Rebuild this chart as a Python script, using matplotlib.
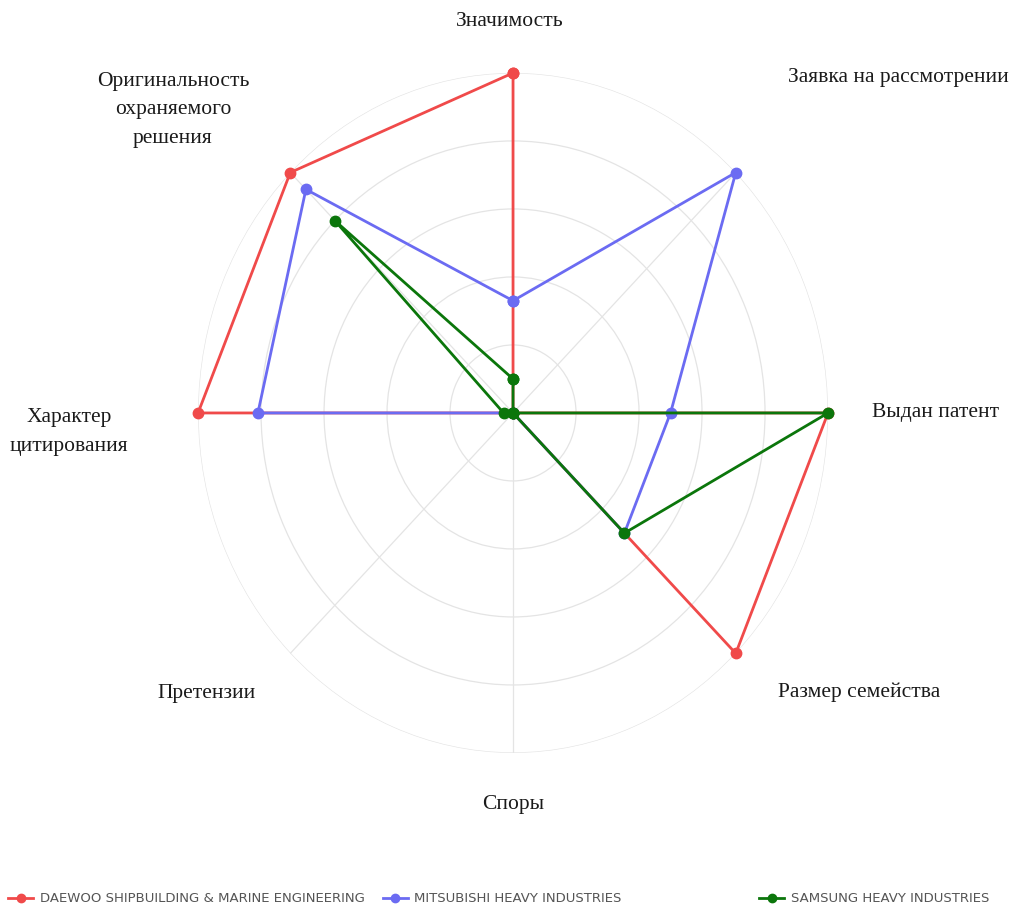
import numpy as np
import matplotlib
matplotlib.use('Agg')
import matplotlib.pyplot as plt

# axes of the radar, clockwise from the top
categories = ['Значимость', 'Заявка на рассмотрении', 'Выдан патент',
              'Размер семейства', 'Споры', 'Претензии',
              'Характер\nцитирования', 'Оригинальность\nохраняемого\nрешения']

companies = ['DAEWOO SHIPBUILDING & MARINE ENGINEERING',
             'MITSUBISHI HEAVY INDUSTRIES',
             'SAMSUNG HEAVY INDUSTRIES']

daewoo = [1.0, 0.0, 1.0, 1.0, 0.0, 0.0, 1.0, 1.0]
mitsubishi = [0.33, 1.0, 0.5, 0.5, 0.0, 0.0, 0.81, 0.93]
samsung = [0.1, 0.0, 1.0, 0.5, 0.0, 0.0, 0.03, 0.8]

colors = ['#f04a4a', '#6b6bf2', '#0b760b']

# label placement in axes fraction (centre of text)
label_pos = [(0.495, 1.075), (1.112, 0.994), (1.17, 0.5), (1.05, 0.09),
             (0.5, -0.076), (0.014, 0.088), (-0.205, 0.472), (-0.04, 0.946)]

fig = plt.figure(figsize=(10.12, 9.05), dpi=100)
ax = fig.add_axes([0.1957, 0.168, 0.6225, 0.7514], projection='polar')
ax.set_aspect('auto')
ax.set_theta_offset(np.pi / 2)
ax.set_theta_direction(-1)

angles = np.arange(len(categories)) * 2 * np.pi / len(categories)
theta = np.append(angles, angles[0])

for vals, c in zip([daewoo, mitsubishi, samsung], colors):
    v = np.append(vals, vals[0])
    ax.plot(theta, v, color=c, lw=2.0, marker='o', markersize=7.5, zorder=3,
            clip_on=False)

ax.set_ylim(0, 1)
ax.set_yticks([0.2, 0.4, 0.6, 0.8, 1.0])
ax.set_yticklabels([])
ax.set_xticks(angles)
ax.set_xticklabels([])
ax.grid(color='#e4e4e4', lw=0.9)
ax.spines['polar'].set_visible(False)

for name, (x, y) in zip(categories, label_pos):
    ax.text(x, y, name, transform=ax.transAxes, ha='center', va='center',
            family='Liberation Serif', fontsize=15.5, color='#1a1a1a',
            linespacing=1.68)

# legend in three fixed-width columns
lines = ax.get_lines()
legend_x = [0.008, 0.378, 0.75]
for line, name, lx in zip(lines, companies, legend_x):
    fig.legend([line], [name], loc='center left', bbox_to_anchor=(lx, 0.007),
               frameon=False, fontsize=9.5, handlelength=1.9, handletextpad=0.5,
               labelcolor='#555555', markerscale=0.8, borderpad=0, borderaxespad=0)

fig.savefig('out.png', dpi=100)
